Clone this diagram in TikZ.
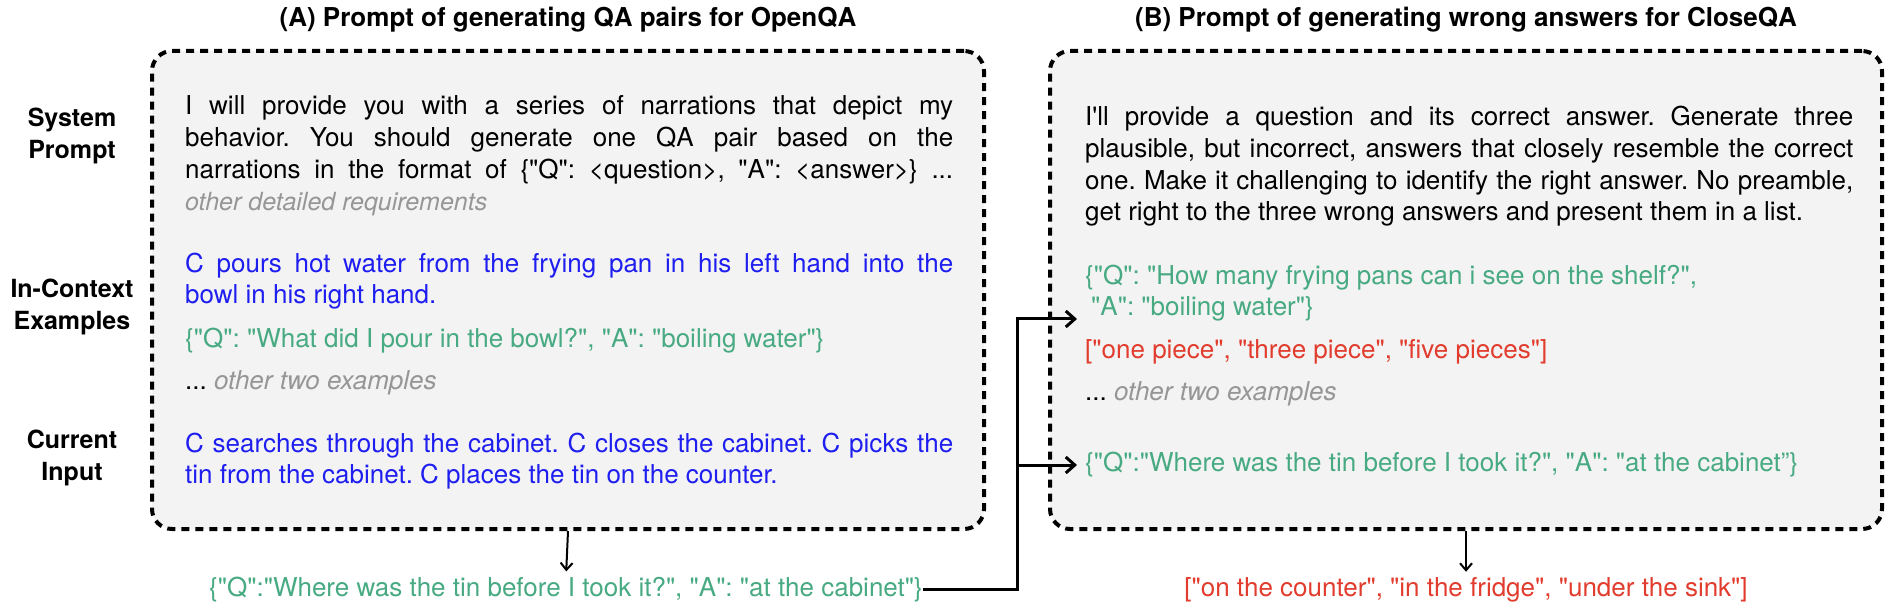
\documentclass[tikz,border=0pt]{standalone}
\usepackage{fontspec}
\setmainfont{TeX Gyre Heros}[Ligatures=TeXOff]
\usetikzlibrary{arrows.meta}
\frenchspacing

\definecolor{qblue}{RGB}{30,30,240}
\definecolor{qgreen}{RGB}{72,170,130}
\definecolor{qred}{RGB}{225,60,45}
\definecolor{qgray}{RGB}{150,150,150}
\definecolor{boxgray}{RGB}{243,243,243}

\tikzset{
  promptbox/.style={draw, line width=4pt, dash pattern=on 8pt off 6pt, rounded corners=20pt,
    fill=boxgray, minimum width=832pt, minimum height=478pt, inner sep=0pt},
  boxtitle/.style={font=\fontsize{26}{30}\selectfont\bfseries, inner sep=0pt},
  rowlabel/.style={font=\fontsize{25}{32}\selectfont\bfseries, align=center, inner sep=0pt},
  txtline/.style={font=\fontsize{26}{30}\selectfont, anchor=base west, inner sep=0pt},
  link/.style={line width=3pt, -{Straight Barb[length=9pt,width=16pt]}},
  downlink/.style={line width=2pt, shorten >=5pt, -{Straight Barb[length=7pt,width=12pt]}},
}

\begin{document}
\begin{tikzpicture}[x=1pt, y=-1pt]
\useasboundingbox (0,0) rectangle (1894,609);
\def\linew{768pt}

% Titles and the two prompt boxes
\node[boxtitle] (ttlA) at (568,20) {(A) Prompt of generating QA pairs for OpenQA};
\node[boxtitle] (ttlB) at (1466,20) {(B) Prompt of generating wrong answers for CloseQA};
\node[promptbox] (lbox) at (568,290) {};
\node[promptbox] (rbox) at (1466,290) {};

% Row labels
\node[rowlabel] (lblSys) at (72,136) {System\\Prompt};
\node[rowlabel] (lblIce) at (72,307) {In-Context\\Examples};
\node[rowlabel] (lblCur) at (72,458) {Current\\Input};

% Left box text
\node[txtline] (sysA1) at (185,115) {\makebox[\linew][s]{I will provide you with a series of narrations that depict my}};
\node[txtline] (sysA2) at (185,147) {\makebox[\linew][s]{behavior. You should generate one QA pair based on the}};
\node[txtline] (sysA3) at (185,179) {\makebox[\linew][s]{narrations in the format of \{"Q": <question>, "A": <answer>\} ...}};
\node[txtline, text=qgray, font=\fontsize{25}{30}\selectfont\itshape] (sysA4) at (185,211) {other detailed requirements};
\node[txtline, text=qblue] (exA1) at (185,273) {\makebox[\linew][s]{C pours hot water from the frying pan in his left hand into the}};
\node[txtline, text=qblue] (exA2) at (185,304) {bowl in his right hand.};
\node[txtline, text=qgreen] (exA3) at (185,347) {\{"Q": "What did I pour in the bowl?", "A": "boiling water"\}};
\node[txtline] (exA4) at (185,389) {... {\color{qgray}\itshape other two examples}};
\node[txtline, text=qblue] (inA1) at (185,452) {\makebox[\linew][s]{C searches through the cabinet. C closes the cabinet. C picks the}};
\node[txtline, text=qblue] (inA2) at (185,483) {tin from the cabinet. C places the tin on the counter.};

% Right box text
\node[txtline] (sysB1) at (1085,126) {\makebox[\linew][s]{I'll provide a question and its correct answer. Generate three}};
\node[txtline] (sysB2) at (1085,158) {\makebox[\linew][s]{plausible, but incorrect, answers that closely resemble the correct}};
\node[txtline] (sysB3) at (1085,190) {\makebox[\linew][s]{one. Make it challenging to identify the right answer. No preamble,}};
\node[txtline] (sysB4) at (1085,221) {get right to the three wrong answers and present them in a list.};
\node[txtline, text=qgreen] (exB1) at (1085,285) {\{"Q": "How many frying pans can i see on the shelf?",};
\node[txtline, text=qgreen] (exB2) at (1091,316) {"A": "boiling water"\}};
\node[txtline, text=qred] (exB3) at (1085,358) {["one piece", "three piece", "five pieces"]};
\node[txtline] (exB4) at (1085,400) {... {\color{qgray}\itshape other two examples}};
\node[txtline, text=qgreen] (inB1) at (1085,471) {\{"Q":"Where was the tin before I took it?", "A": "at the cabinet”\}};

% Outputs under the boxes
\node[txtline, anchor=base, text=qgreen] (outA) at (566,596) {\{"Q":"Where was the tin before I took it?", "A": "at the cabinet"\}};
\node[txtline, anchor=base, text=qred] (outB) at (1466,596) {["on the counter", "in the fridge", "under the sink"]};

% Connectors
\coordinate (fork) at (1017,465);
\coordinate (tipB1) at (1077,319);
\coordinate (tipB2) at (1077,465);
\draw[downlink] (lbox.south) -- (outA.north);
\draw[downlink] (rbox.south) -- (outB.north);
\draw[link] (outA.east) -| (tipB1 -| fork) -- (tipB1);
\draw[link] (fork) -- (tipB2);
\end{tikzpicture}
\end{document}
